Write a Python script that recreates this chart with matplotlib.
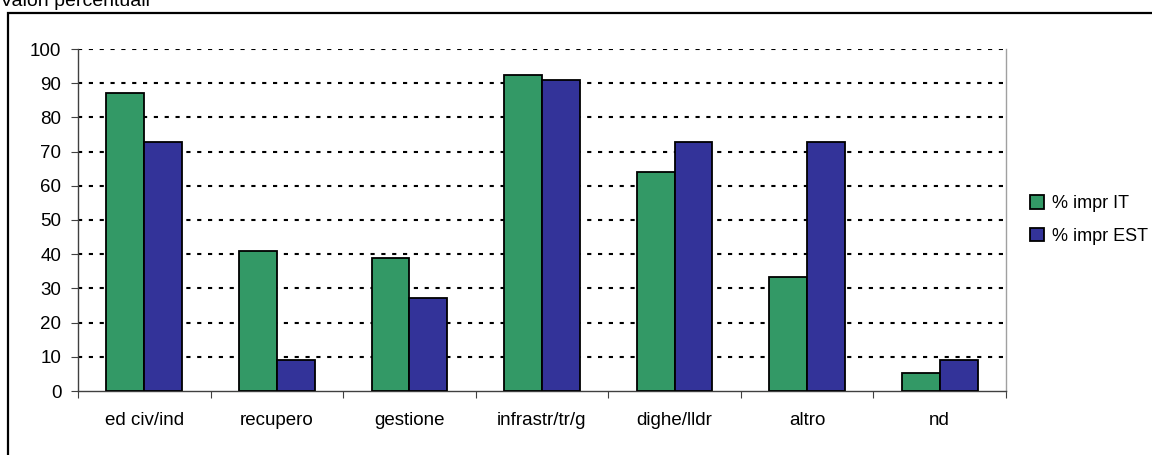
import numpy as np
import matplotlib.pyplot as plt
from matplotlib.patches import Rectangle

plt.rcParams['font.family'] = ['Liberation Sans', 'DejaVu Sans']

categories = ["ed civ/ind", "recupero", "gestione", "infrastr/tr/g",
              "dighe/lldr", "altro", "nd"]
impr_it = [87.0, 41.0, 38.8, 92.3, 64.1, 33.3, 5.3]
impr_est = [72.7, 9.1, 27.3, 90.9, 72.7, 72.7, 9.1]
series_labels = ["% impr IT", "% impr EST"]
y_ticks = list(range(0, 101, 10))

fig = plt.figure(figsize=(11.52, 4.55), dpi=100)

# outer chart frame, runs off the right and bottom edges
fig.patches.append(Rectangle((8 / 1152, -0.1), 1.2, 1 - 13 / 455 + 0.1,
                             transform=fig.transFigure, fill=False,
                             edgecolor='black', linewidth=1.6, zorder=0))
fig.text(0.0, 1 - 6 / 455, "Valori percentuali", fontsize=14,
         ha='left', va='baseline')

ax = fig.add_axes([78 / 1152, 64 / 455, 928 / 1152, 342 / 455])

x = np.arange(len(categories))
w = 1 / 3.5
ax.bar(x - w / 2, impr_it, width=w, color='#339966', edgecolor='black',
       linewidth=1.3, label=series_labels[0], zorder=3)
ax.bar(x + w / 2, impr_est, width=w, color='#333399', edgecolor='black',
       linewidth=1.3, label=series_labels[1], zorder=3)

ax.set_xlim(-0.5, len(categories) - 0.5)
ax.set_ylim(0, 100)
ax.set_yticks(y_ticks)
ax.tick_params(axis='y', labelsize=13.5, length=5, width=0.8, pad=7,
               color='#404040')

# category labels centred, ticks at the boundaries
ax.set_xticks(x)
ax.set_xticklabels(categories, fontsize=13.5)
ax.tick_params(axis='x', which='major', length=0, pad=15)
ax.set_xticks(np.arange(len(categories) + 1) - 0.5, minor=True)
ax.tick_params(axis='x', which='minor', length=5, width=0.8, color='#404040')

for yv in y_ticks[1:]:
    ax.axhline(yv, color='black', linewidth=1.5, dashes=(2, 3.2), zorder=1)

ax.spines['top'].set_visible(False)
ax.spines['left'].set_color('#404040')
ax.spines['bottom'].set_color('#404040')
ax.spines['right'].set_color('#a0a0a0')
for s in ax.spines.values():
    s.set_linewidth(1.0)

ax.legend(loc='center left', bbox_to_anchor=(1.0 + 24 / 928, 0.5),
          frameon=False, fontsize=13, handlelength=0.75, handleheight=0.75,
          handletextpad=0.45, labelspacing=0.85, borderaxespad=0,
          borderpad=0)

fig.savefig("out.png", dpi=100)
